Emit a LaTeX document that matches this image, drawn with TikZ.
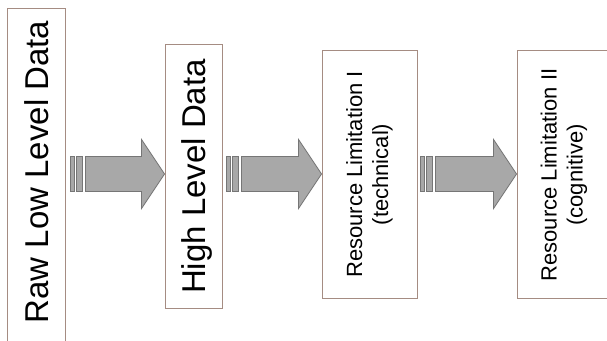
\documentclass[tikz,border=0pt]{standalone}
\usepackage{fontspec}
\setmainfont{Liberation Sans}
\usetikzlibrary{calc}
\definecolor{boxline}{RGB}{165,140,130}
\definecolor{arrfill}{RGB}{168,168,168}
\definecolor{arrline}{RGB}{118,118,118}
\begin{document}
\begin{tikzpicture}[x=1pt,y=-1pt,
  box/.style={draw=boxline, line width=0.9pt, fill=white, inner sep=0pt, rectangle},
  bigtext/.style={rotate=90, inner sep=0pt, text depth=0pt, font=\fontsize{33}{38}\selectfont},
  smalltext/.style={rotate=90, inner sep=0pt, align=center, font=\fontsize{22}{26}\selectfont},
  blockarrow/.style={draw=arrline, fill=arrfill, line width=0.8pt, line join=miter},
  stripe/.style={draw=arrline, fill=arrfill, line width=0.8pt}]
\useasboundingbox (0,0) rectangle (607,340);
\clip (0,0) rectangle (607,340);
\fill[white] (0,0) rectangle (607,340);
% boxes
\node[box, minimum width=58pt, minimum height=352pt] (b1) at (36,184) {};
\node[box, minimum width=57pt, minimum height=264pt] (b2) at (193.5,176) {};
\node[box, minimum width=95pt, minimum height=248pt] (b3) at (369.5,174) {};
\node[box, minimum width=123pt, minimum height=248pt] (b4) at (578.5,174) {};
% texts
\node[bigtext] (t1) at (37,172) {Raw Low Level Data};
\node[bigtext] (t2) at (194,176.5) {High Level Data};
\node[smalltext] (t3) at (369.5,174.5) {Resource Limitation I\\(technical)};
\node[smalltext] (t4) at (564,175) {Resource Limitation II\\(cognitive)};
% arrows (block arrows ending at the next box)
\coordinate (ay) at (0,174);
\coordinate (p1) at (b2.west |- ay);
\coordinate (p2) at (b3.west |- ay);
\coordinate (p3) at (b4.west |- ay);
\foreach \p/\len in {p1/79,p2/80,p3/81}{
  \draw[blockarrow] (\p) -- ($(\p)+(-23,-34.5)$) -- ($(\p)+(-23,-17.5)$)
     -- ($(\p)+(-\len,-17.5)$) -- ($(\p)+(-\len,17.5)$) -- ($(\p)+(-23,17.5)$)
     -- ($(\p)+(-23,34.5)$) -- cycle;
  \draw[stripe] ($(\p)+(-\len-15,-17.5)$) rectangle ($(\p)+(-\len-11,17.5)$);
  \draw[stripe] ($(\p)+(-\len-9,-17.5)$) rectangle ($(\p)+(-\len-3,17.5)$);
}
\end{tikzpicture}
\end{document}
